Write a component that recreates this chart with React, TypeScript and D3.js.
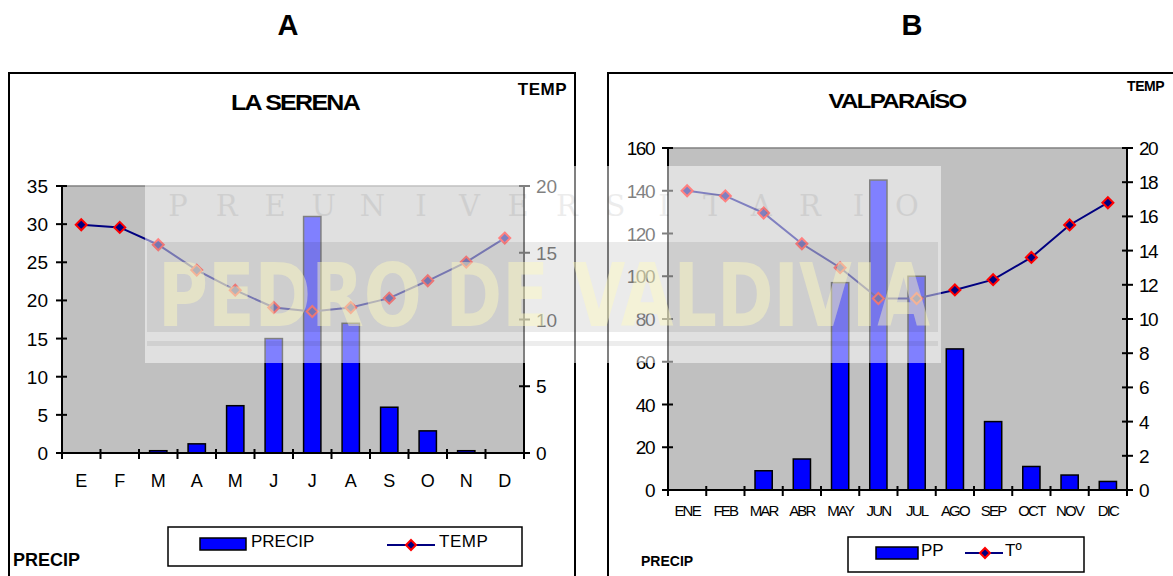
import React from 'react';
import { scaleBand, scaleLinear, line, range } from 'd3';

// La Serena (A)
const monthsA = ['E', 'F', 'M', 'A', 'M', 'J', 'J', 'A', 'S', 'O', 'N', 'D'];
const precipA = [0, 0, 0.3, 1.2, 6.2, 15, 31, 17, 6, 2.9, 0.3, 0];
const tempA = [17.1, 16.9, 15.6, 13.7, 12.2, 10.9, 10.6, 10.9, 11.6, 12.9, 14.3, 16.1];
const precipTicksA = [0, 5, 10, 15, 20, 25, 30, 35];
const tempTicksA = [0, 5, 10, 15, 20];

// Valparaiso (B)
const monthsB = ['ENE', 'FEB', 'MAR', 'ABR', 'MAY', 'JUN', 'JUL', 'AGO', 'SEP', 'OCT', 'NOV', 'DIC'];
const precipB = [0, 0, 9, 14.5, 97, 145, 100, 66, 32, 11, 7, 4];
const tempB = [17.5, 17.2, 16.2, 14.4, 13.0, 11.2, 11.2, 11.7, 12.3, 13.6, 15.5, 16.8];
const precipTicksB = [0, 20, 40, 60, 80, 100, 120, 140, 160];
const tempTicksB = [0, 2, 4, 6, 8, 10, 12, 14, 16, 18, 20];

const watermarkTop = 'PREUNIVERSITARIO'.split('');
const font = "'Liberation Sans', Arial, sans-serif";

const Diamond = ({ cx, cy, r }: { cx: number; cy: number; r: number }) => (
  <path
    d={`M${cx},${cy - r}L${cx + r},${cy}L${cx},${cy + r}L${cx - r},${cy}Z`}
    fill="#000080"
    stroke="#ff0000"
    strokeWidth={2}
  />
);

type PanelProps = {
  x0: number; x1: number; y0: number; y1: number;
  cats: string[]; precip: number[]; temp: number[];
  pTicks: number[]; tTicks: number[];
  tickSize: number; tickSpacing: number;
  catSize: number; catSpacing: number; catY: number;
};

const Panel = (p: PanelProps) => {
  const x = scaleBand<number>()
    .domain(range(p.cats.length))
    .range([p.x0, p.x1])
    .paddingInner(0.55)
    .paddingOuter(0.275);
  const step = x.step();
  const cx = (i: number) => (x(i) as number) + x.bandwidth() / 2;
  const yP = scaleLinear().domain([0, p.pTicks[p.pTicks.length - 1]]).range([p.y1, p.y0]);
  const yT = scaleLinear().domain([0, p.tTicks[p.tTicks.length - 1]]).range([p.y1, p.y0]);
  const tempLine = line<number>().x((d, i) => cx(i)).y((d) => yT(d));

  return (
    <g fontFamily={font}>
      <rect x={p.x0} y={p.y0} width={p.x1 - p.x0} height={p.y1 - p.y0} fill="#c0c0c0" />
      <line x1={p.x0} x2={p.x1} y1={p.y0} y2={p.y0} stroke="#808080" strokeWidth={1.5} />
      {p.precip.map((d, i) => (
        <rect key={i} x={x(i)} y={yP(d)} width={x.bandwidth()} height={p.y1 - yP(d)}
          fill="#0000ff" stroke="#000" strokeWidth={1.5} />
      ))}
      <path d={tempLine(p.temp) || ''} fill="none" stroke="#000080" strokeWidth={2} />
      {p.temp.map((d, i) => <Diamond key={i} cx={cx(i)} cy={yT(d)} r={5.5} />)}
      {/* axes */}
      <line x1={p.x0} x2={p.x0} y1={p.y0 - 1} y2={p.y1} stroke="#000" strokeWidth={2} />
      <line x1={p.x1} x2={p.x1} y1={p.y0 - 1} y2={p.y1} stroke="#000" strokeWidth={2} />
      <line x1={p.x0} x2={p.x1} y1={p.y1} y2={p.y1} stroke="#000" strokeWidth={2} />
      {range(p.cats.length + 1).map((i) => (
        <line key={i} x1={p.x0 + i * step} x2={p.x0 + i * step} y1={p.y1 - 4} y2={p.y1 + 6} stroke="#000" strokeWidth={2} />
      ))}
      {p.cats.map((c, i) => (
        <text key={i} x={cx(i)} y={p.catY} textAnchor="middle" fontSize={p.catSize} letterSpacing={p.catSpacing}>{c}</text>
      ))}
      {p.pTicks.map((t) => (
        <g key={t}>
          <line x1={p.x0 - 6} x2={p.x0 + 5} y1={yP(t)} y2={yP(t)} stroke="#000" strokeWidth={2} />
          <text x={p.x0 - 14} y={yP(t) + 7} textAnchor="end" fontSize={p.tickSize} letterSpacing={p.tickSpacing}>{t}</text>
        </g>
      ))}
      {p.tTicks.map((t) => (
        <g key={t}>
          <line x1={p.x1 - 5} x2={p.x1 + 6} y1={yT(t)} y2={yT(t)} stroke="#000" strokeWidth={2} />
          <text x={p.x1 + 12} y={yT(t) + 7} textAnchor="start" fontSize={p.tickSize} letterSpacing={p.tickSpacing}>{t}</text>
        </g>
      ))}
    </g>
  );
};

const App = () => {
  return (
    <svg width={1173} height={576} style={{ position: 'absolute', left: 0, top: 0 }} fontFamily={font}>
      <rect width={1173} height={576} fill="#fff" />
      <text x={288} y={35} textAnchor="middle" fontSize={29} fontWeight="bold">A</text>
      <text x={912} y={35} textAnchor="middle" fontSize={29} fontWeight="bold">B</text>

      {/* frames */}
      <rect x={9} y={73} width={566} height={520} fill="none" stroke="#000" strokeWidth={2} />
      <rect x={608} y={73} width={600} height={520} fill="none" stroke="#000" strokeWidth={2} />

      <text x={295} y={110} textAnchor="middle" fontSize={22} fontWeight="bold" letterSpacing={-1.5} textLength={128} lengthAdjust="spacingAndGlyphs">LA SERENA</text>
      <text x={567} y={95} textAnchor="end" fontSize={17} fontWeight="bold" letterSpacing={0.5}>TEMP</text>
      <text x={13} y={566} fontSize={18} fontWeight="bold">PRECIP</text>

      <text x={897} y={108} textAnchor="middle" fontSize={21} fontWeight="bold" letterSpacing={-1.5} textLength={137} lengthAdjust="spacingAndGlyphs">VALPARAÍSO</text>
      <text x={1164} y={91} textAnchor="end" fontSize={14} fontWeight="bold" letterSpacing={-0.5}>TEMP</text>
      <text x={641} y={566} fontSize={14} fontWeight="bold">PRECIP</text>

      <Panel x0={62} x1={524} y0={186} y1={453} cats={monthsA} precip={precipA} temp={tempA}
        pTicks={precipTicksA} tTicks={tempTicksA} tickSize={19} tickSpacing={0}
        catSize={18} catSpacing={0} catY={487} />
      <Panel x0={668} x1={1127} y0={148} y1={490} cats={monthsB} precip={precipB} temp={tempB}
        pTicks={precipTicksB} tTicks={tempTicksB} tickSize={19} tickSpacing={-1.5}
        catSize={15} catSpacing={-1.8} catY={516} />

      {/* legend A */}
      <rect x={168} y={527} width={354} height={39} fill="#fff" stroke="#000" strokeWidth={1.5} />
      <rect x={200} y={538} width={46} height={12} fill="#0000ff" stroke="#000" strokeWidth={1.5} />
      <text x={251} y={547} fontSize={17}>PRECIP</text>
      <line x1={387} x2={435} y1={545} y2={545} stroke="#000080" strokeWidth={2} />
      <Diamond cx={411} cy={545} r={5} />
      <text x={439} y={547} fontSize={17} letterSpacing={0.5}>TEMP</text>

      {/* legend B */}
      <rect x={848} y={537} width={236} height={35} fill="#fff" stroke="#000" strokeWidth={1.5} />
      <rect x={876} y={547} width={42} height={12} fill="#0000ff" stroke="#000" strokeWidth={1.5} />
      <text x={921} y={556} fontSize={17}>PP</text>
      <line x1={965} x2={1003} y1={553} y2={553} stroke="#000080" strokeWidth={2} />
      <Diamond cx={985} cy={553} r={5} />
      <text x={1005} y={556} fontSize={17}>Tº</text>

      {/* watermark overlay */}
      <g>
        <rect x={145} y={166} width={796} height={197} fill="#fff" opacity={0.5} />
        <rect x={147} y={242} width={791} height={90} fill="#000" opacity={0.08} />
        <rect x={147} y={341} width={791} height={5} fill="#000" opacity={0.07} />
        {watermarkTop.map((c, i) => (
          <text key={i} x={178 + i * 48.6} y={216} textAnchor="middle" fontSize={29}
            fontFamily="'DejaVu Serif', serif" fill="#000" opacity={0.07}>{c}</text>
        ))}
        <text x={158} y={326} fontSize={88} fontWeight="bold" fontFamily="'DejaVu Sans', sans-serif"
          fill="#fffbbf" opacity={0.45} textLength={772} lengthAdjust="spacingAndGlyphs">PEDRO DE VALDIVIA</text>
      </g>
    </svg>
  );
};

export default App;
